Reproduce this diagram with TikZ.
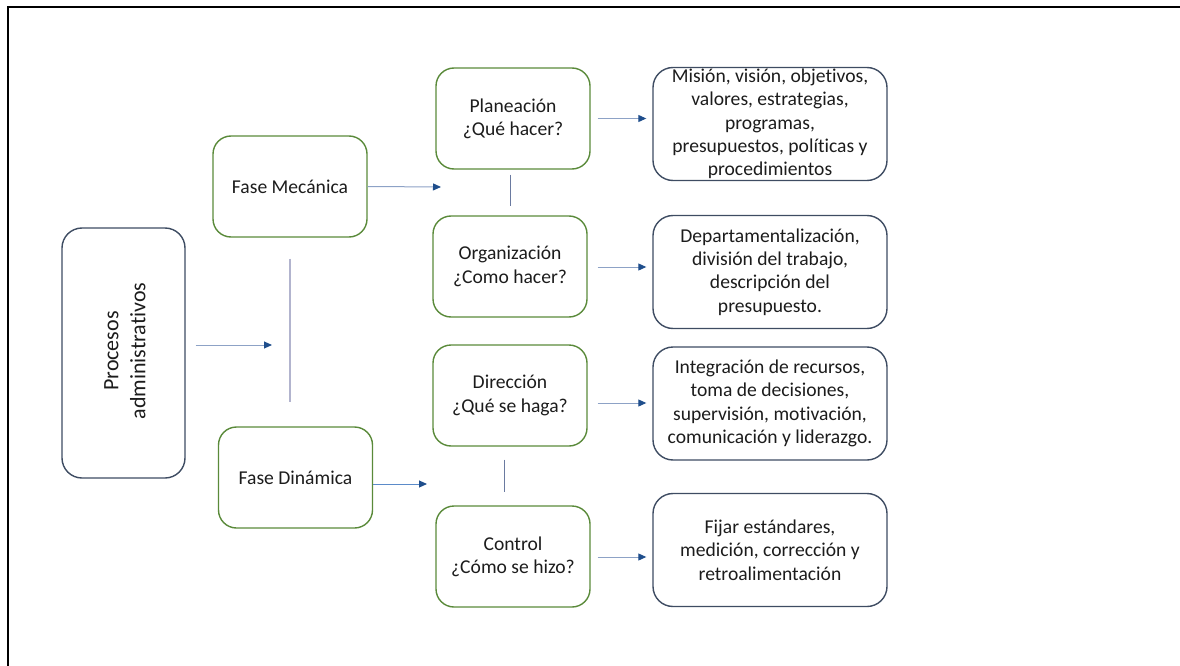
\documentclass[tikz,border=0pt]{standalone}
\usepackage{fontspec}
\setmainfont[RawFeature={-liga;-clig;-dlig}]{Carlito}
\usetikzlibrary{arrows.meta,calc}
\definecolor{grn}{HTML}{5A8A3A}
\definecolor{slate}{HTML}{3E4C62}
\definecolor{txt}{HTML}{1C1C1C}
\definecolor{arrline}{HTML}{8DA2C6}
\definecolor{arrline2}{HTML}{5B8BC9}
\definecolor{arrhead}{HTML}{1F4E8C}
\definecolor{lav}{HTML}{B2B4CE}
\definecolor{midl}{HTML}{6A7AA0}
\tikzset{
  base/.style={rectangle, align=center, text=txt, font=\fontsize{19.6}{23.3}\selectfont, inner sep=0pt},
  phase/.style={base, draw=grn, line width=1.4pt, rounded corners=18pt, minimum width=154pt, minimum height=101pt},
  detail/.style={base, draw=slate, line width=1.4pt, rounded corners=20pt, minimum width=234pt, minimum height=113pt},
  procbox/.style={base, draw=slate, line width=1.4pt, rounded corners=20pt, minimum width=123pt, minimum height=250pt},
  arr/.style={draw=arrline, line width=1pt, -{Triangle[length=8pt,width=7pt,color=arrhead]}},
  vline/.style={draw=lav, line width=1.3pt},
  vline2/.style={draw=midl, line width=1pt},
}
\begin{document}
\begin{tikzpicture}[x=1pt,y=-1pt]
\useasboundingbox (0,0) rectangle (1180,666);
% frame
\coordinate (fa) at (7.5,666);
\coordinate (fb) at (7.5,7.5);
\coordinate (fc) at (1180,7.5);
\draw[line width=2pt, black] (fa) -- (fb) -- (fc);

% nodes
\node[procbox] (proc) at (123.5,353) {};
\node[base, rotate=90, font=\fontsize{22}{27}\selectfont] (proctxt) at (125,351) {Procesos\\administrativos};

\node[phase] (fm) at (290,186.5) {Fase Mecánica};
\node[phase] (fd) at (295.5,477.5) {Fase Dinámica};

\node[phase] (plan) at (513,118.5) {Planeación\\¿Qué hacer?};
\node[phase] (org) at (510,266.5) {Organización\\¿Como hacer?};
\node[phase] (dir) at (510,395.5) {Dirección\\¿Qué se haga?};
\node[phase] (ctrl) at (513,556.5) {Control\\¿Cómo se hizo?};

\node[detail] (mision) at (770,124) {Misión, visión, objetivos,\\valores, estrategias,\\programas,\\presupuestos, políticas y\\procedimientos};
\node[detail] (depto) at (770,272) {Departamentalización,\\división del trabajo,\\descripción del\\presupuesto.};
\node[detail] (integ) at (770,403.5) {Integración de recursos,\\toma de decisiones,\\supervisión, motivación,\\comunicación y liderazgo.};
\node[detail] (fijar) at (770,550) {Fijar estándares,\\medición, corrección y\\retroalimentación};

% free ends and helper points
\coordinate (j1) at (272,345);
\coordinate (j2) at (441,187);
\coordinate (j3) at (427,484);
\coordinate (ps) at ($(proc.east)+(10,-8)$);
\coordinate (fde) at ($(fd.east)+(0,6.5)$);
\coordinate (oe) at ($(org.east)+(0,0.5)$);
\coordinate (de) at ($(dir.east)+(0,7.5)$);
\coordinate (ce) at ($(ctrl.east)+(0,0.5)$);
\coordinate (ds) at ($(dir.south)+(-6,0)$);

% connectors
\draw[arr] (ps) -- (j1);
\draw[vline, shorten <=21pt, shorten >=24pt] (fm.south) -- (fm.south |- fd.north);
\draw[arr] (fm.east) -- (j2);
\draw[arr, draw=arrline2] (fde) -- (j3);

\draw[vline2, shorten <=5pt, shorten >=9pt] (org.north |- plan.south) -- (org.north);
\draw[vline2, shorten <=13pt, shorten >=13pt] (ds) -- (ds |- ctrl.north);

\draw[arr, shorten <=7pt, shorten >=6pt] (plan.east) -- (plan.east -| mision.west);
\draw[arr, shorten <=10pt, shorten >=6pt] (oe) -- (oe -| depto.west);
\draw[arr, shorten <=10pt, shorten >=6pt] (de) -- (de -| integ.west);
\draw[arr, shorten <=7pt, shorten >=6pt] (ce) -- (ce -| fijar.west);
\end{tikzpicture}
\end{document}
